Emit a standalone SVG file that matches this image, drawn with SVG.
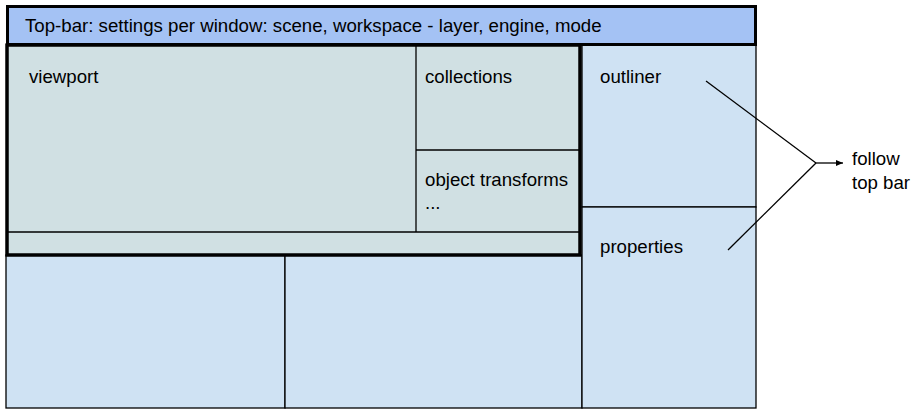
<svg xmlns="http://www.w3.org/2000/svg" width="915" height="418" viewBox="0 0 915 418">
<defs>
<style>
text{font-family:"Liberation Sans",Arial,sans-serif;font-size:18.67px;fill:#000}
.thin{stroke:#000;stroke-width:1.3}
.line{stroke:#000;stroke-width:1.3;fill:none}
.thick{stroke:#000;stroke-width:3}
.blue{fill:#cfe2f3}
.grey{fill:#d0e0e3}
</style>
<marker id="ah" markerWidth="8" markerHeight="8" refX="7" refY="4" orient="auto" markerUnits="userSpaceOnUse">
<path d="M0,1 L7,4 L0,7 Z" fill="#000"/>
</marker>
</defs>
<rect x="0" y="0" width="915" height="418" fill="#fff"/>
<g id="bottom-left">
<rect x="6" y="255" width="279" height="153" class="thin blue"/>
</g>
<g id="bottom-middle">
<rect x="285" y="255" width="297" height="153" class="thin blue"/>
</g>
<g id="outliner">
<rect x="582" y="45" width="174" height="162" class="thin blue"/>
<text x="600" y="83">outliner</text>
</g>
<g id="properties">
<rect x="582" y="207" width="174" height="201" class="thin blue"/>
<text x="600" y="253">properties</text>
</g>
<g id="viewport-area">
<rect x="7" y="45" width="573" height="210" class="thick grey"/>
<line x1="7" y1="232" x2="580" y2="232" class="line"/>
<line x1="416" y1="45" x2="416" y2="232" class="line"/>
<line x1="416" y1="150" x2="580" y2="150" class="line"/>
<rect x="7" y="45" width="573" height="210" fill="none" class="thick"/>
</g>
<g id="viewport"><text x="29" y="83">viewport</text></g>
<g id="collections"><text x="425" y="83">collections</text></g>
<g id="object-transforms"><text x="425" y="186">object transforms</text><text x="425" y="209">...</text></g>
<g id="top-bar">
<rect x="7.5" y="6.5" width="748" height="38" fill="#a4c2f4" class="thick"/>
<text x="25" y="32">Top-bar: settings per window: scene, workspace - layer, engine, mode</text>
</g>
<g id="connectors">
<line x1="706" y1="81" x2="816" y2="163" class="line"/>
<line x1="728" y1="250" x2="816" y2="163" class="line"/>
<line x1="816" y1="163" x2="843" y2="163" class="line" marker-end="url(#ah)"/>
</g>
<g id="follow-label">
<text x="852" y="165">follow</text>
<text x="852" y="189">top bar</text>
</g>
</svg>
